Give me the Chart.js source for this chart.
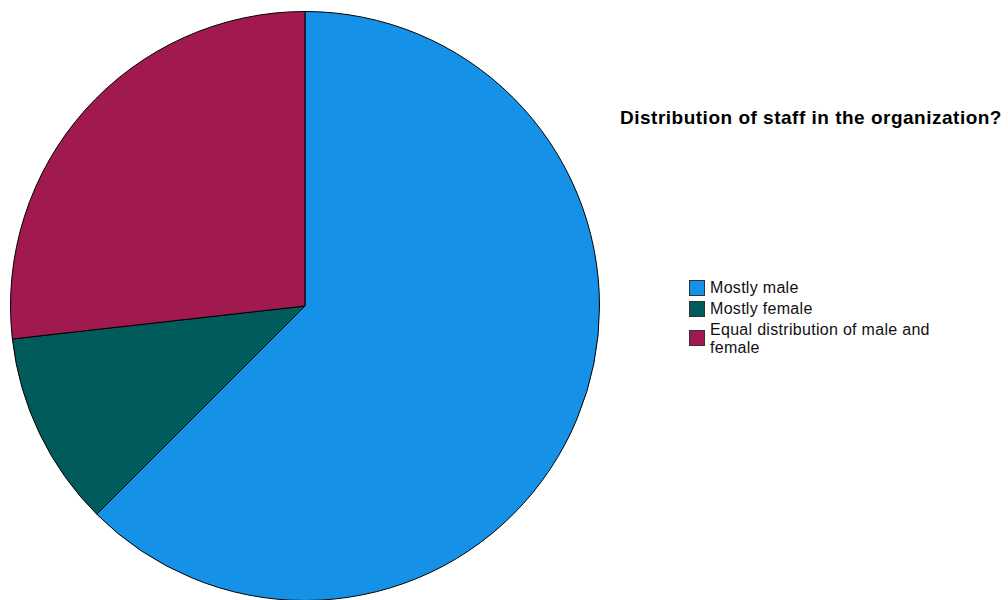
<!DOCTYPE html>
<html>
<head>
<meta charset="utf-8">
<script src="https://cdn.jsdelivr.net/npm/chart.js@4.4.1/dist/chart.umd.min.js"></script>
<style>
  html, body { margin: 0; padding: 0; background: #fff; width: 1008px; height: 600px; overflow: hidden; }
  #wrap { position: absolute; left: 0; top: 0; width: 610px; height: 601px; }
  #title {
    position: absolute; left: 620px; top: 107px; white-space: nowrap;
    font-family: "Liberation Sans", Arial, sans-serif; font-weight: bold;
    font-size: 19px; letter-spacing: 0.5px; color: #000;
  }
  #legend {
    position: absolute; left: 689px; top: 279px;
    font-family: "Liberation Sans", Arial, sans-serif; font-size: 16px;
    letter-spacing: 0.3px; color: #111;
  }
  .item { position: relative; padding-left: 21px; line-height: 18px; margin-bottom: 3px; width: 240px; }
  .box { position: absolute; left: 0; width: 14px; height: 14px; border: 1px solid #333; }
</style>
</head>
<body>
<div id="wrap"><canvas id="c"></canvas></div>
<div id="title"></div>
<div id="legend"></div>
<script>
// Staff distribution responses
const titleText = 'Distribution of staff in the organization?';
const categories = ['Mostly male', 'Mostly female', 'Equal distribution of male and female'];
const counts = [35, 6, 15];
const colors = ['#1591E8', '#005B5A', '#A01A50'];

document.getElementById('title').textContent = titleText;

// Legend on the right
const legend = document.getElementById('legend');
categories.forEach((name, i) => {
  const item = document.createElement('div');
  item.className = 'item';
  const box = document.createElement('span');
  box.className = 'box';
  box.style.background = colors[i];
  box.style.top = (i === 2 ? 9 : 1) + 'px';
  item.appendChild(box);
  const label = document.createElement('span');
  label.textContent = name;
  item.appendChild(label);
  legend.appendChild(item);
});

new Chart(document.getElementById('c'), {
  type: 'pie',
  data: {
    labels: categories,
    datasets: [{
      data: counts,
      backgroundColor: colors,
      borderColor: '#000',
      borderWidth: 1
    }]
  },
  options: {
    responsive: true,
    maintainAspectRatio: false,
    animation: false,
    layout: { padding: { top: 11 } },
    plugins: {
      legend: { display: false },
      title: { display: false },
      tooltip: { enabled: false }
    }
  }
});
</script>
</body>
</html>
